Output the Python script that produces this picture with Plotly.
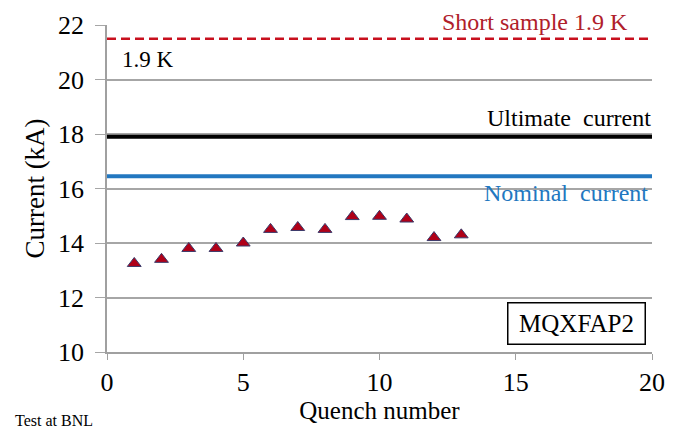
import plotly.graph_objects as go

quench = [1, 2, 3, 4, 5, 6, 7, 8, 9, 10, 11, 12, 13]
current = [13.25, 13.4, 13.8, 13.8, 14.0, 14.5, 14.57, 14.5, 14.97, 14.98, 14.88, 14.2, 14.3]
short_sample = 21.5
ultimate = 17.9
nominal = 16.45
x_range = [0, 20]

fig = go.Figure()
fig.add_trace(go.Scatter(x=x_range, y=[short_sample]*2, mode="lines",
                         line=dict(color="#c8101e", width=2.5, dash="9px,5px"), showlegend=False))
fig.add_trace(go.Scatter(x=x_range, y=[ultimate]*2, mode="lines",
                         line=dict(color="black", width=4), showlegend=False))
fig.add_trace(go.Scatter(x=x_range, y=[nominal]*2, mode="lines",
                         line=dict(color="#2277c0", width=4), showlegend=False))
fig.add_trace(go.Scatter(x=quench, y=current, mode="markers",
                         marker=dict(symbol="triangle-up", size=12, color="#b00018",
                                     line=dict(color="#3a3a6a", width=1)),
                         showlegend=False))

font = "Liberation Serif"
fig.update_layout(
    width=674, height=426,
    margin=dict(l=99, r=30, t=17, b=82),
    paper_bgcolor="white", plot_bgcolor="white",
    font=dict(family=font, size=25, color="black"),
    xaxis=dict(range=x_range, dtick=5, showgrid=False, showline=True, linecolor="#a0a0a0",
               linewidth=1.5, ticks="outside", ticklen=6, tickcolor="#a0a0a0",
               tickfont=dict(family=font, size=26), zeroline=False, automargin=False,
               title=dict(text="Quench number", font=dict(family=font, size=25), standoff=0)),
    yaxis=dict(range=[10, 22], dtick=2, showgrid=True, gridcolor="#a6a6a6", gridwidth=1.5,
               showline=True, linecolor="#a0a0a0", linewidth=1.5, ticks="outside",
               ticklen=10, tickcolor="#a6a6a6", tickfont=dict(family=font, size=26),
               zeroline=False, ticklabelstandoff=6, automargin=False,
               title=dict(text="Current (kA)", font=dict(family=font, size=27), standoff=6)),
    annotations=[
        dict(x=19.19, y=22, xref="x", yref="y", yshift=3, text="Short sample 1.9 K",
             showarrow=False, xanchor="right", yanchor="middle",
             font=dict(family=font, size=24, color="#b0202a")),
        dict(x=0.48, y=20.74, xref="x", yref="y", text="1.9 K", showarrow=False,
             xanchor="left", yanchor="middle", font=dict(family=font, size=23)),
        dict(x=20, y=18.6, xref="x", yref="y", xshift=1, text="Ultimate  current",
             showarrow=False, xanchor="right", yanchor="middle",
             font=dict(family=font, size=24)),
        dict(x=19.93, y=15.85, xref="x", yref="y", text="Nominal  current", showarrow=False,
             xanchor="right", yanchor="middle", font=dict(family=font, size=24, color="#2277c0")),
        dict(x=19.78, y=11.03, xref="x", yref="y", text="MQXFAP2", showarrow=False,
             xanchor="right", yanchor="middle", font=dict(family=font, size=25),
             width=126, height=30, borderpad=5,
             bordercolor="black", borderwidth=1.5, bgcolor="white"),
        dict(x=0, y=0, xref="paper", yref="paper", text="Test at BNL", showarrow=False,
             xanchor="left", yanchor="middle", xshift=-94, yshift=-68,
             font=dict(family=font, size=16)),
    ],
)
fig.write_html("out.html")
